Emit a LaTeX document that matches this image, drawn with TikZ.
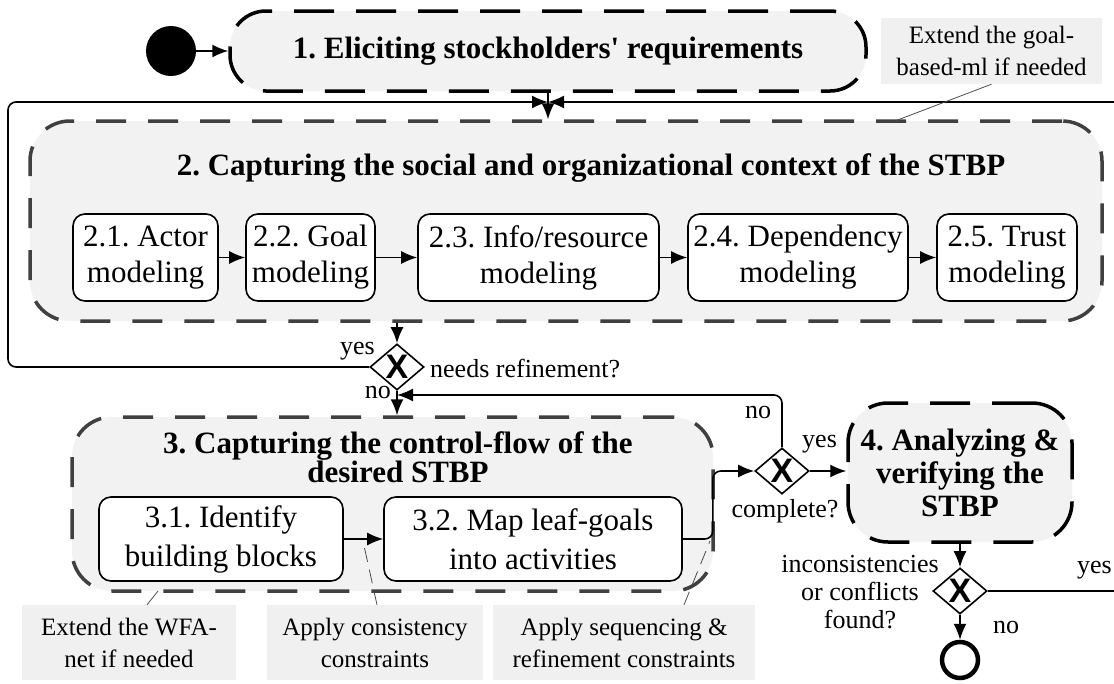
\documentclass[tikz,border=0pt]{standalone}
\usepackage{fontspec}
\setmainfont{Liberation Serif}
\newfontfamily\gatefont{Liberation Sans}
\usetikzlibrary{arrows.meta,shapes.geometric}
\frenchspacing

\begin{document}
\begin{tikzpicture}[x=1pt,y=-1pt,
  flow/.style={-{Latex[length=16pt,width=13pt]}, line width=1.6pt},
  plain/.style={line width=1.6pt},
  phase/.style={draw=black, line width=3.5pt, dash pattern=on 40pt off 22pt,
    fill=black!5, rounded corners=36pt, align=center, inner sep=0pt,
    font=\fontsize{31}{33}\selectfont\bfseries},
  stage/.style={draw=black!75, line width=3.5pt, dash pattern=on 30pt off 22pt,
    fill=black!5, rounded corners=40pt, inner sep=0pt},
  head/.style={inner sep=0pt, align=center, font=\fontsize{31}{27}\selectfont\bfseries},
  task/.style={draw, line width=1.6pt, fill=white, rounded corners=12pt,
    align=center, inner sep=0pt},
  gate/.style={draw, diamond, line width=1.6pt, fill=white, inner sep=0pt,
    minimum width=54pt, minimum height=43pt,
    font=\fontsize{34}{34}\selectfont\gatefont\bfseries},
  lbl/.style={inner sep=0pt, font=\fontsize{26}{28}\selectfont},
  note/.style={fill=black!6, align=center, inner sep=0pt,
    font=\fontsize{25}{32}\selectfont},
  pin/.style={draw=black!70, line width=0.8pt},
]
  \useasboundingbox (0,0) rectangle (1114,683);

  % phases
  \node[circle, fill=black, minimum size=50pt, inner sep=0pt] (start) at (171,51) {};
  \node[phase, minimum width=636pt, minimum height=80pt] (elicit) at (548,51)
    {1. Eliciting stockholders\textquotesingle\ requirements};
  \node[stage, minimum width=1072pt, minimum height=200pt] (context) at (566,221) {};
  \node[head, anchor=base] (contextT) at (591,175)
    {2. Capturing the social and organizational context of the STBP};
  \node[stage, minimum width=641pt, minimum height=174pt] (control) at (392.5,504) {};
  \node[head] (controlT) at (398,457) {3. Capturing the control-flow of the\\desired STBP};
  \node[phase, minimum width=224pt, minimum height=139pt, rounded corners=40pt] (verify)
    at (960,472.5) {4. Analyzing \&\\verifying the\\STBP};

  % tasks
  \begin{scope}[every node/.append style={task, minimum height=87pt,
      font=\fontsize{31}{36}\selectfont}]
    \node[minimum width=145pt] (actor) at (145.5,257.5) {2.1. Actor\\modeling};
    \node[minimum width=129pt] (goal) at (310.5,257.5) {2.2. Goal\\modeling};
    \node[minimum width=241pt] (info) at (538.5,257.5) {2.3. Info/resource\\modeling};
    \node[minimum width=220pt] (dep) at (798,257.5) {2.4. Dependency\\modeling};
    \node[minimum width=140pt] (trust) at (1007,257.5) {2.5. Trust\\modeling};
  \end{scope}
  \begin{scope}[every node/.append style={task, minimum height=84pt,
      font=\fontsize{31}{39}\selectfont}]
    \node[minimum width=244pt] (identify) at (221,539) {3.1. Identify\\building blocks};
    \node[minimum width=298pt] (map) at (533,539) {3.2. Map leaf-goals\\into activities};
  \end{scope}

  % gateways
  \node[gate] (refine) at (397,367) {X};
  \node[gate] (complete) at (782,471) {X};
  \node[gate] (verified) at (960,591) {X};
  \node[circle, draw, line width=4.5pt, minimum size=36pt, inner sep=0pt] (finish) at (960,660) {};

  % notes
  \node[note, minimum width=221pt, minimum height=66pt] (noteGoal) at (991.5,51)
    {Extend the goal-\\based-ml if needed};
  \node[note, minimum width=214pt, minimum height=75pt] (noteWFA) at (129,642.5)
    {Extend the WFA-\\net if needed};
  \node[note, minimum width=216pt, minimum height=75pt] (noteCons) at (375,642.5)
    {Apply consistency\\constraints};
  \node[note, minimum width=262pt, minimum height=75pt] (noteSeq) at (624,642.5)
    {Apply sequencing \&\\refinement constraints};

  % labels
  \node[lbl, anchor=base east] (yesA) at (375,354) {yes};
  \node[lbl, anchor=base west] (askA) at (430,377) {needs refinement?};
  \node[lbl, anchor=base east] (noA) at (391,398) {no};
  \node[lbl, anchor=base west] (noB) at (745,418) {no};
  \node[lbl, anchor=base west] (yesB) at (802,447) {yes};
  \node[lbl, anchor=base] (askB) at (785,517) {complete?};
  \node[lbl, align=center] (askC) at (860,592) {inconsistencies\\or conflicts\\found?};
  \node[lbl, anchor=base east] (yesC) at (1112,573) {yes};
  \node[lbl, anchor=base west] (noC) at (993,633) {no};

  % flow
  \coordinate (merge) at (548,102);
  \coordinate (loopL) at (8,102);
  \coordinate (edgeTop) at (1114,102);
  \coordinate (edgeYes) at (1114,591);
  \coordinate (noIn) at (397,395);
  \draw[flow] (start) -- (elicit);
  \draw[flow] (elicit.south) -- (elicit.south |- context.north);
  \draw[flow, rounded corners=8pt] (refine.west) -| (loopL) -- (merge);
  \draw[flow] (edgeTop) -- (merge);
  \draw[flow] (actor) -- (goal);
  \draw[flow] (goal) -- (info);
  \draw[flow] (info) -- (dep);
  \draw[flow] (dep) -- (trust);
  \draw[flow] (context.south -| refine) -- (refine);
  \draw[flow] (refine.south) -- (refine |- control.north);
  \draw[flow] (identify) -- (map);
  \draw[flow, rounded corners=8pt] (map.east) -- +(30,0) |- (complete.west);
  \draw[flow, rounded corners=8pt] (complete.north) |- (noIn);
  \draw[flow] (complete.east) -- (complete.east -| verify.west);
  \draw[flow] (verify) -- (verified);
  \draw[flow] (verified) -- (finish);
  \draw[plain] (verified) -- (edgeYes);

  % note hooks
  \coordinate (goalHook) at (895,121);
  \coordinate (wfaHook) at (158,591);
  \coordinate (consHook) at (363,541);
  \coordinate (seqHook) at (710,541);
  \draw[pin] (noteGoal.south) -- (goalHook);
  \draw[pin] ([xshift=18pt]noteWFA.north) -- (wfaHook);
  \draw[pin, dash pattern=on 14pt off 8pt] ([xshift=2pt]noteCons.north) -- (consHook);
  \draw[pin, dash pattern=on 14pt off 8pt] ([xshift=60pt]noteSeq.north) -- (seqHook);
\end{tikzpicture}
\end{document}
